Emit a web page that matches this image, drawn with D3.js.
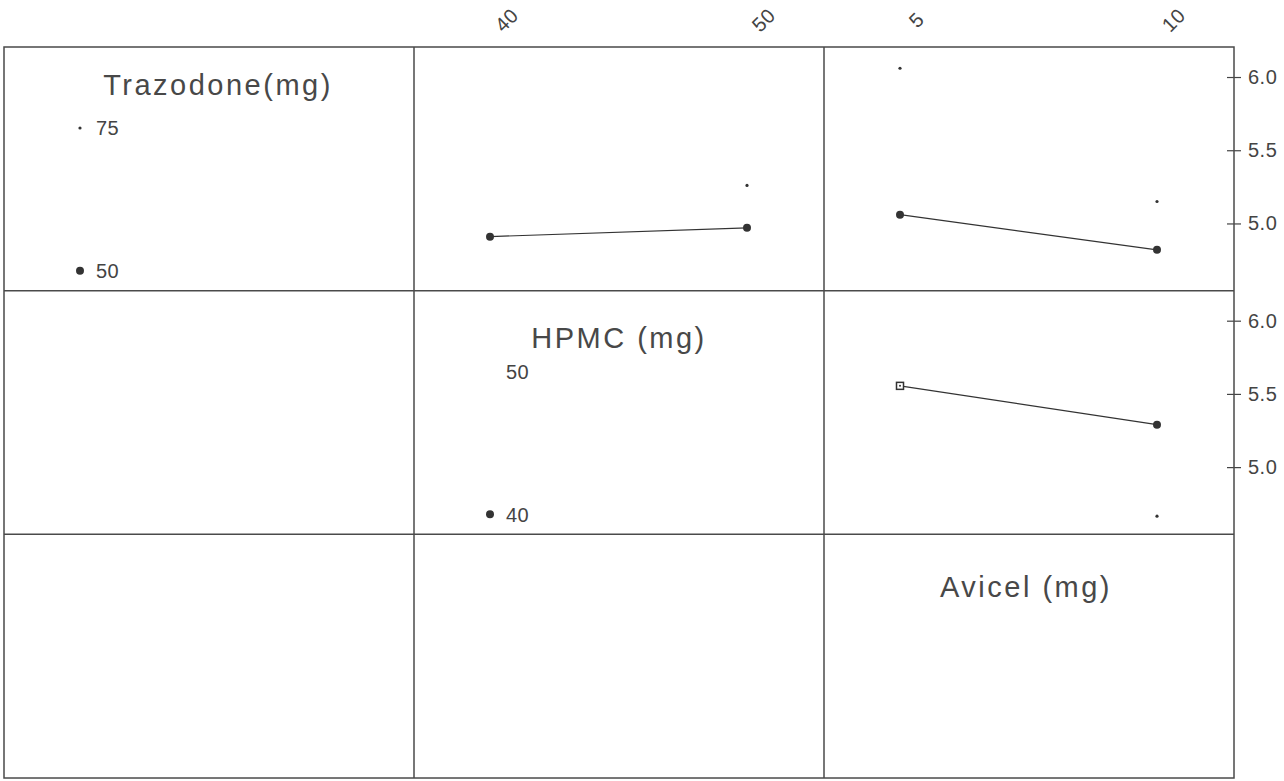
<!DOCTYPE html>
<html>
<head>
<meta charset="utf-8">
<script src="https://cdn.jsdelivr.net/npm/d3@7"></script>
<style>
  body { margin: 0; background: #fff; }
  svg { display: block; font-family: "Liberation Sans", Arial, sans-serif; }
  .axis text { fill: #444; font-size: 20px; letter-spacing: 0.5px; }
  .axis line { stroke: #444; stroke-width: 1.2; }
</style>
</head>
<body>
<svg id="chart" width="1284" height="781"></svg>
<script>
// factors and their levels (low, high)
const factors = ["Trazodone(mg)", "HPMC (mg)", "Avicel (mg)"];
const trazodoneLevels = [50, 75];
const hpmcLevels = [40, 50];
const avicelLevels = [5, 10];
const yTicks = [5.0, 5.5, 6.0];

// means, one value per level of the x factor
const trazByHpmc50 = [4.91, 4.97];
const trazByHpmc75 = [null, 5.26];
const trazByAvicel50 = [5.06, 4.82];
const trazByAvicel75 = [6.06, 5.15];
const hpmcByAvicel40 = [5.555, 5.29];
const hpmcByAvicel50 = [null, 4.665];

const levels = [trazodoneLevels, hpmcLevels, avicelLevels];

// panels above the diagonal: row = trace factor, col = x factor
const panels = [
  { row: 0, col: 1, series: [
      { values: trazByHpmc50, style: "big" },
      { values: trazByHpmc75, style: "dot" }] },
  { row: 0, col: 2, series: [
      { values: trazByAvicel50, style: "big" },
      { values: trazByAvicel75, style: "dot" }] },
  { row: 1, col: 2, series: [
      { values: hpmcByAvicel40, style: "big", shapes: ["square", "circle"] },
      { values: hpmcByAvicel50, style: "dot" }] }
];

const gridLeft = 4, gridTop = 47, cellW = 410, cellH = 243.67;
const svg = d3.select("#chart");

const y = d3.scaleLinear().domain([4.541, 6.205]).range([cellH, 0]);
const xScale = col => d3.scaleLinear().domain(levels[col]).range([76, 333]);

// panels with plots
panels.forEach(p => {
  const g = svg.append("g")
    .attr("transform", `translate(${gridLeft + p.col * cellW},${gridTop + p.row * cellH})`);
  const x = xScale(p.col);
  const lvl = levels[p.col];

  p.series.forEach(s => {
    const pts = s.values.map((v, i) => ({ x: lvl[i], v: v, i: i }))
      .filter(d => d.v !== null);

    if (s.style === "big") {
      g.append("path")
        .datum(pts)
        .attr("fill", "none")
        .attr("stroke", "#333")
        .attr("stroke-width", 1.2)
        .attr("d", d3.line().x(d => x(d.x)).y(d => y(d.v)));
    }

    pts.forEach(d => {
      const shape = s.shapes ? s.shapes[d.i] : "circle";
      if (s.style === "dot") {
        g.append("circle").attr("cx", x(d.x)).attr("cy", y(d.v))
          .attr("r", 1.6).attr("fill", "#333");
      } else if (shape === "square") {
        g.append("rect").attr("x", x(d.x) - 3.5).attr("y", y(d.v) - 3.5)
          .attr("width", 7).attr("height", 7)
          .attr("fill", "#fff").attr("stroke", "#333").attr("stroke-width", 1.5);
        g.append("circle").attr("cx", x(d.x)).attr("cy", y(d.v))
          .attr("r", 1).attr("fill", "#333");
      } else {
        g.append("circle").attr("cx", x(d.x)).attr("cy", y(d.v))
          .attr("r", 4).attr("fill", "#333");
      }
    });
  });
});

// diagonal legends
const titleDx = [9, 0, -3];
const titleDy = [48, 57, 63];
const legendMarks = [["big", "dot"], ["big", "none"], ["none", "none"]];
const legendText = [true, true, false];

factors.forEach((name, k) => {
  const g = svg.append("g")
    .attr("transform", `translate(${gridLeft + k * cellW},${gridTop + k * cellH})`);
  g.append("text")
    .attr("x", cellW / 2 + titleDx[k])
    .attr("y", titleDy[k])
    .attr("text-anchor", "middle")
    .attr("fill", "#484848")
    .style("font-size", "29px")
    .style("letter-spacing", "2.5px")
    .text(name);

  if (!legendText[k]) return;
  // high level near top, low level near bottom
  const ly = [cellH - 20, 81];
  levels[k].forEach((lv, i) => {
    const m = legendMarks[k][i];
    if (m === "big") {
      g.append("circle").attr("cx", 76).attr("cy", ly[i]).attr("r", 4).attr("fill", "#333");
    } else if (m === "dot") {
      g.append("circle").attr("cx", 76).attr("cy", ly[i]).attr("r", 1.6).attr("fill", "#333");
    }
    g.append("text")
      .attr("x", 92).attr("y", ly[i])
      .attr("dy", "0.36em")
      .attr("fill", "#444")
      .style("font-size", "20px")
      .style("letter-spacing", "0.5px")
      .text(lv);
  });
});

// top axes for the x factors
[1, 2].forEach(col => {
  const ax = svg.append("g")
    .attr("class", "axis")
    .attr("transform", `translate(${gridLeft + col * cellW},20)`)
    .call(d3.axisTop(xScale(col)).tickValues(levels[col]).tickSize(0).tickFormat(d3.format("d")));
  ax.select(".domain").remove();
  ax.selectAll("text")
    .attr("y", 0)
    .attr("dy", "0.35em")
    .attr("text-anchor", "middle")
    .attr("transform", "translate(16,0) rotate(-45)");
});

// right axes for the rows with plots
[0, 1].forEach(row => {
  const ax = svg.append("g")
    .attr("class", "axis")
    .attr("transform", `translate(${gridLeft + 3 * cellW},${gridTop + row * cellH})`)
    .call(d3.axisRight(y).tickValues(yTicks).tickSize(7).tickPadding(7).tickFormat(d3.format(".1f")));
  ax.select(".domain").remove();
  ax.selectAll(".tick line").attr("x1", -7);
});

// grid frame
const frame = svg.append("g").attr("fill", "none").attr("stroke", "#4a4a4a").attr("stroke-width", 1.5);
frame.append("rect").attr("x", gridLeft).attr("y", gridTop).attr("width", 3 * cellW).attr("height", 3 * cellH);
d3.range(1, 3).forEach(i => {
  frame.append("line").attr("x1", gridLeft + i * cellW).attr("x2", gridLeft + i * cellW)
    .attr("y1", gridTop).attr("y2", gridTop + 3 * cellH);
  frame.append("line").attr("y1", gridTop + i * cellH).attr("y2", gridTop + i * cellH)
    .attr("x1", gridLeft).attr("x2", gridLeft + 3 * cellW);
});
</script>
</body>
</html>
